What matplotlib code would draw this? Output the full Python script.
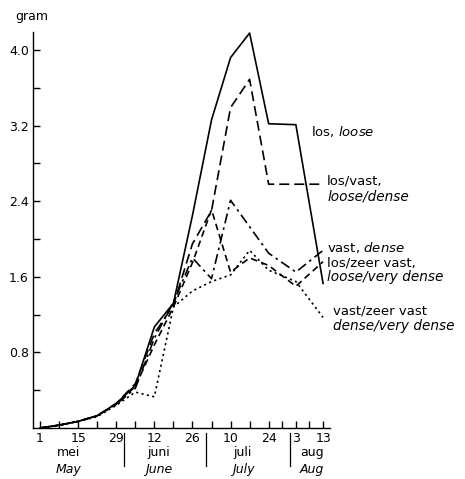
import matplotlib
matplotlib.use("Agg")
import matplotlib.pyplot as plt
import matplotlib.transforms as mtransforms

plt.rcParams['font.family'] = ['DejaVu Sans']
plt.rcParams['mathtext.fontset'] = 'dejavusans'

# days after 1 May
days = [0, 7, 14, 21, 28, 35, 42, 49, 56, 63, 70, 77, 84, 94, 104]

los = [0, 0.03, 0.07, 0.13, 0.26, 0.45, 1.07, 1.32, 2.25, 3.26, 3.92, 4.18, 3.22, 3.21, 1.53]
los_vast = [0, 0.03, 0.07, 0.13, 0.26, 0.47, 1.00, 1.30, 1.95, 2.30, 3.39, 3.69, 2.58, 2.58, 2.58]
vast = [0, 0.03, 0.07, 0.13, 0.25, 0.42, 0.95, 1.33, 1.80, 1.58, 2.41, 2.13, 1.85, 1.65, 1.88]
los_zeer_vast = [0, 0.03, 0.07, 0.13, 0.25, 0.44, 0.88, 1.28, 1.75, 2.31, 1.65, 1.80, 1.72, 1.50, 1.76]
vast_zeer_vast = [0, 0.03, 0.07, 0.12, 0.24, 0.38, 0.33, 1.28, 1.45, 1.55, 1.62, 1.88, 1.67, 1.55, 1.17]

tick_days = [0, 14, 28, 42, 56, 70, 84, 94, 104]
tick_labels = ["1", "15", "29", "12", "26", "10", "24", "3", "13"]
month_breaks = [31, 61, 92]
months_nl = ["mei", "juni", "juli", "aug"]
months_en = ["May", "June", "July", "Aug"]
month_pos = [10.3, 43.5, 74.5, 100]

fig = plt.figure(figsize=(4.65, 4.79), dpi=100)
ax = fig.add_axes([0.071, 0.1065, 0.639, 0.8265])

kw = dict(color="black", lw=1.2)
ax.plot(days, los, ls="-", **kw)
ax.plot(days, los_vast, ls=(0, (6, 3)), **kw)
ax.plot(days, vast, ls=(0, (6, 2.5, 1.5, 2.5)), **kw)
ax.plot(days, los_zeer_vast, ls=(0, (4, 2.5)), **kw)
ax.plot(days, vast_zeer_vast, ls=(0, (1.3, 2)), **kw)

ax.set_xlim(-2.6, 106.6)
ax.set_ylim(0, 4.19)
for s in ["top", "right"]:
    ax.spines[s].set_visible(False)
ax.spines["left"].set_linewidth(1)
ax.spines["bottom"].set_linewidth(1)

ax.set_yticks([0.8, 1.6, 2.4, 3.2, 4.0])
ax.set_yticklabels(["0.8", "1.6", "2.4", "3.2", "4.0"])
ax.set_yticks([0.4, 1.2, 2.0, 2.8, 3.6], minor=True)
ax.tick_params(axis="y", which="both", direction="in", length=5, width=1,
               labelsize=9, pad=3)

ax.set_xticks(tick_days)
ax.set_xticklabels(tick_labels)
ax.set_xticks([7, 21, 35, 49, 63, 77, 89, 99], minor=True)
ax.tick_params(axis="x", which="both", direction="in", length=5, width=1,
               labelsize=9, pad=3)

ax.text(-9, 4.35, "gram", fontsize=9, ha="left", va="center")

trans = mtransforms.blended_transform_factory(ax.transData, ax.transAxes)
for d in month_breaks:
    ax.plot([d, d], [-0.012, -0.095], color="black", lw=0.9,
            transform=trans, clip_on=False)
for p, nl, en in zip(month_pos, months_nl, months_en):
    ax.text(p, -0.063, nl, transform=trans, ha="center", va="center", fontsize=9)
    ax.text(p, -0.106, en, transform=trans, ha="center", va="center",
            fontsize=9, style="italic")

tk = dict(fontsize=9.5, ha="left", va="center", clip_on=False)
ti = dict(fontsize=9.8, ha="left", va="center", clip_on=False, style="italic")
ax.text(99.5, 3.14, r"los, $\it{loose}$", **tk)
ax.text(105.5, 2.61, "los/vast,", **tk)
ax.text(105.5, 2.45, "loose/dense", **ti)
ax.text(105.5, 1.91, r"vast, $\it{dense}$", **tk)
ax.text(105.5, 1.75, "los/zeer vast,", **tk)
ax.text(105.5, 1.60, "loose/very dense", **ti)
ax.text(107.5, 1.24, "vast/zeer vast", **tk)
ax.text(107.5, 1.08, "dense/very dense", **ti)

fig.savefig("out.png", dpi=100)
